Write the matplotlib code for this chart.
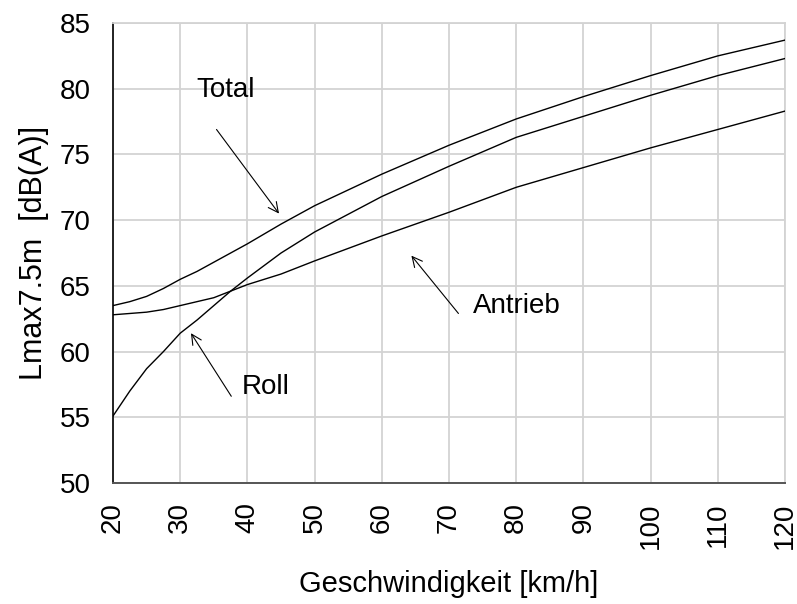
import matplotlib
matplotlib.use("Agg")
import matplotlib.pyplot as plt

plt.rcParams["font.family"] = ["Liberation Sans", "DejaVu Sans"]

# Vorbeifahrtpegel Lmax in 7.5 m Abstand, aufgeteilt nach Quelle
speed = [20, 22.5, 25, 27.5, 30, 32.5, 35, 37.5, 40, 45, 50, 60, 70, 80, 90, 100, 110, 120]
roll = [55.1, 57.0, 58.7, 60.0, 61.4, 62.4, 63.5, 64.6, 65.6, 67.5, 69.1,
        71.8, 74.1, 76.3, 77.9, 79.5, 81.0, 82.3]
antrieb = [62.8, 62.9, 63.0, 63.2, 63.5, 63.8, 64.1, 64.6, 65.1, 65.9, 66.9,
           68.8, 70.6, 72.5, 74.0, 75.5, 76.9, 78.3]
total = [63.5, 63.8, 64.2, 64.8, 65.5, 66.1, 66.8, 67.5, 68.2, 69.7, 71.1,
         73.5, 75.7, 77.7, 79.4, 81.0, 82.5, 83.7]

x_ticks = list(range(20, 121, 10))
y_ticks = list(range(50, 86, 5))

grid_col = "#d3d3d3"

fig = plt.figure(figsize=(7.97, 6.04), dpi=100)
ax = fig.add_axes([0.1418, 0.2003, 0.8432, 0.7616])

for series in (total, roll, antrieb):
    ax.plot(speed, series, color="black", linewidth=1.0, zorder=3)

ax.set_xlim(20, 120)
ax.set_ylim(50, 85)
ax.set_xticks(x_ticks)
ax.set_yticks(y_ticks)
ax.set_xticklabels([str(v) for v in x_ticks], rotation=90)
ax.grid(True, color=grid_col, linewidth=1.3, zorder=0)
ax.tick_params(length=0, labelsize=20)
ax.tick_params(axis="y", pad=16)
ax.tick_params(axis="x", pad=14)

ax.spines["left"].set_color("#222222")
ax.spines["left"].set_linewidth(1.4)
ax.spines["bottom"].set_color("#555555")
ax.spines["bottom"].set_linewidth(1.4)
for side in ("top", "right"):
    ax.spines[side].set_color(grid_col)
    ax.spines[side].set_linewidth(1.3)

ax.set_xlabel("Geschwindigkeit [km/h]", fontsize=21, labelpad=15)
ax.set_ylabel("Lmax7.5m  [dB(A)]", fontsize=22, labelpad=8)

arrow = dict(arrowstyle="->", color="black", linewidth=0.8,
             shrinkA=0, shrinkB=0, mutation_scale=18)

ax.text(32.4, 79.9, "Total", fontsize=20, va="center", ha="left")
ax.annotate("", xy=(44.7, 70.5), xytext=(35.4, 76.9), arrowprops=arrow)

ax.text(39.2, 57.3, "Roll", fontsize=20, va="center", ha="left")
ax.annotate("", xy=(31.6, 61.4), xytext=(37.6, 56.6), arrowprops=arrow)

ax.text(73.6, 63.5, "Antrieb", fontsize=20, va="center", ha="left")
ax.annotate("", xy=(64.4, 67.3), xytext=(71.4, 62.9), arrowprops=arrow)

fig.savefig("out.png", dpi=100)
